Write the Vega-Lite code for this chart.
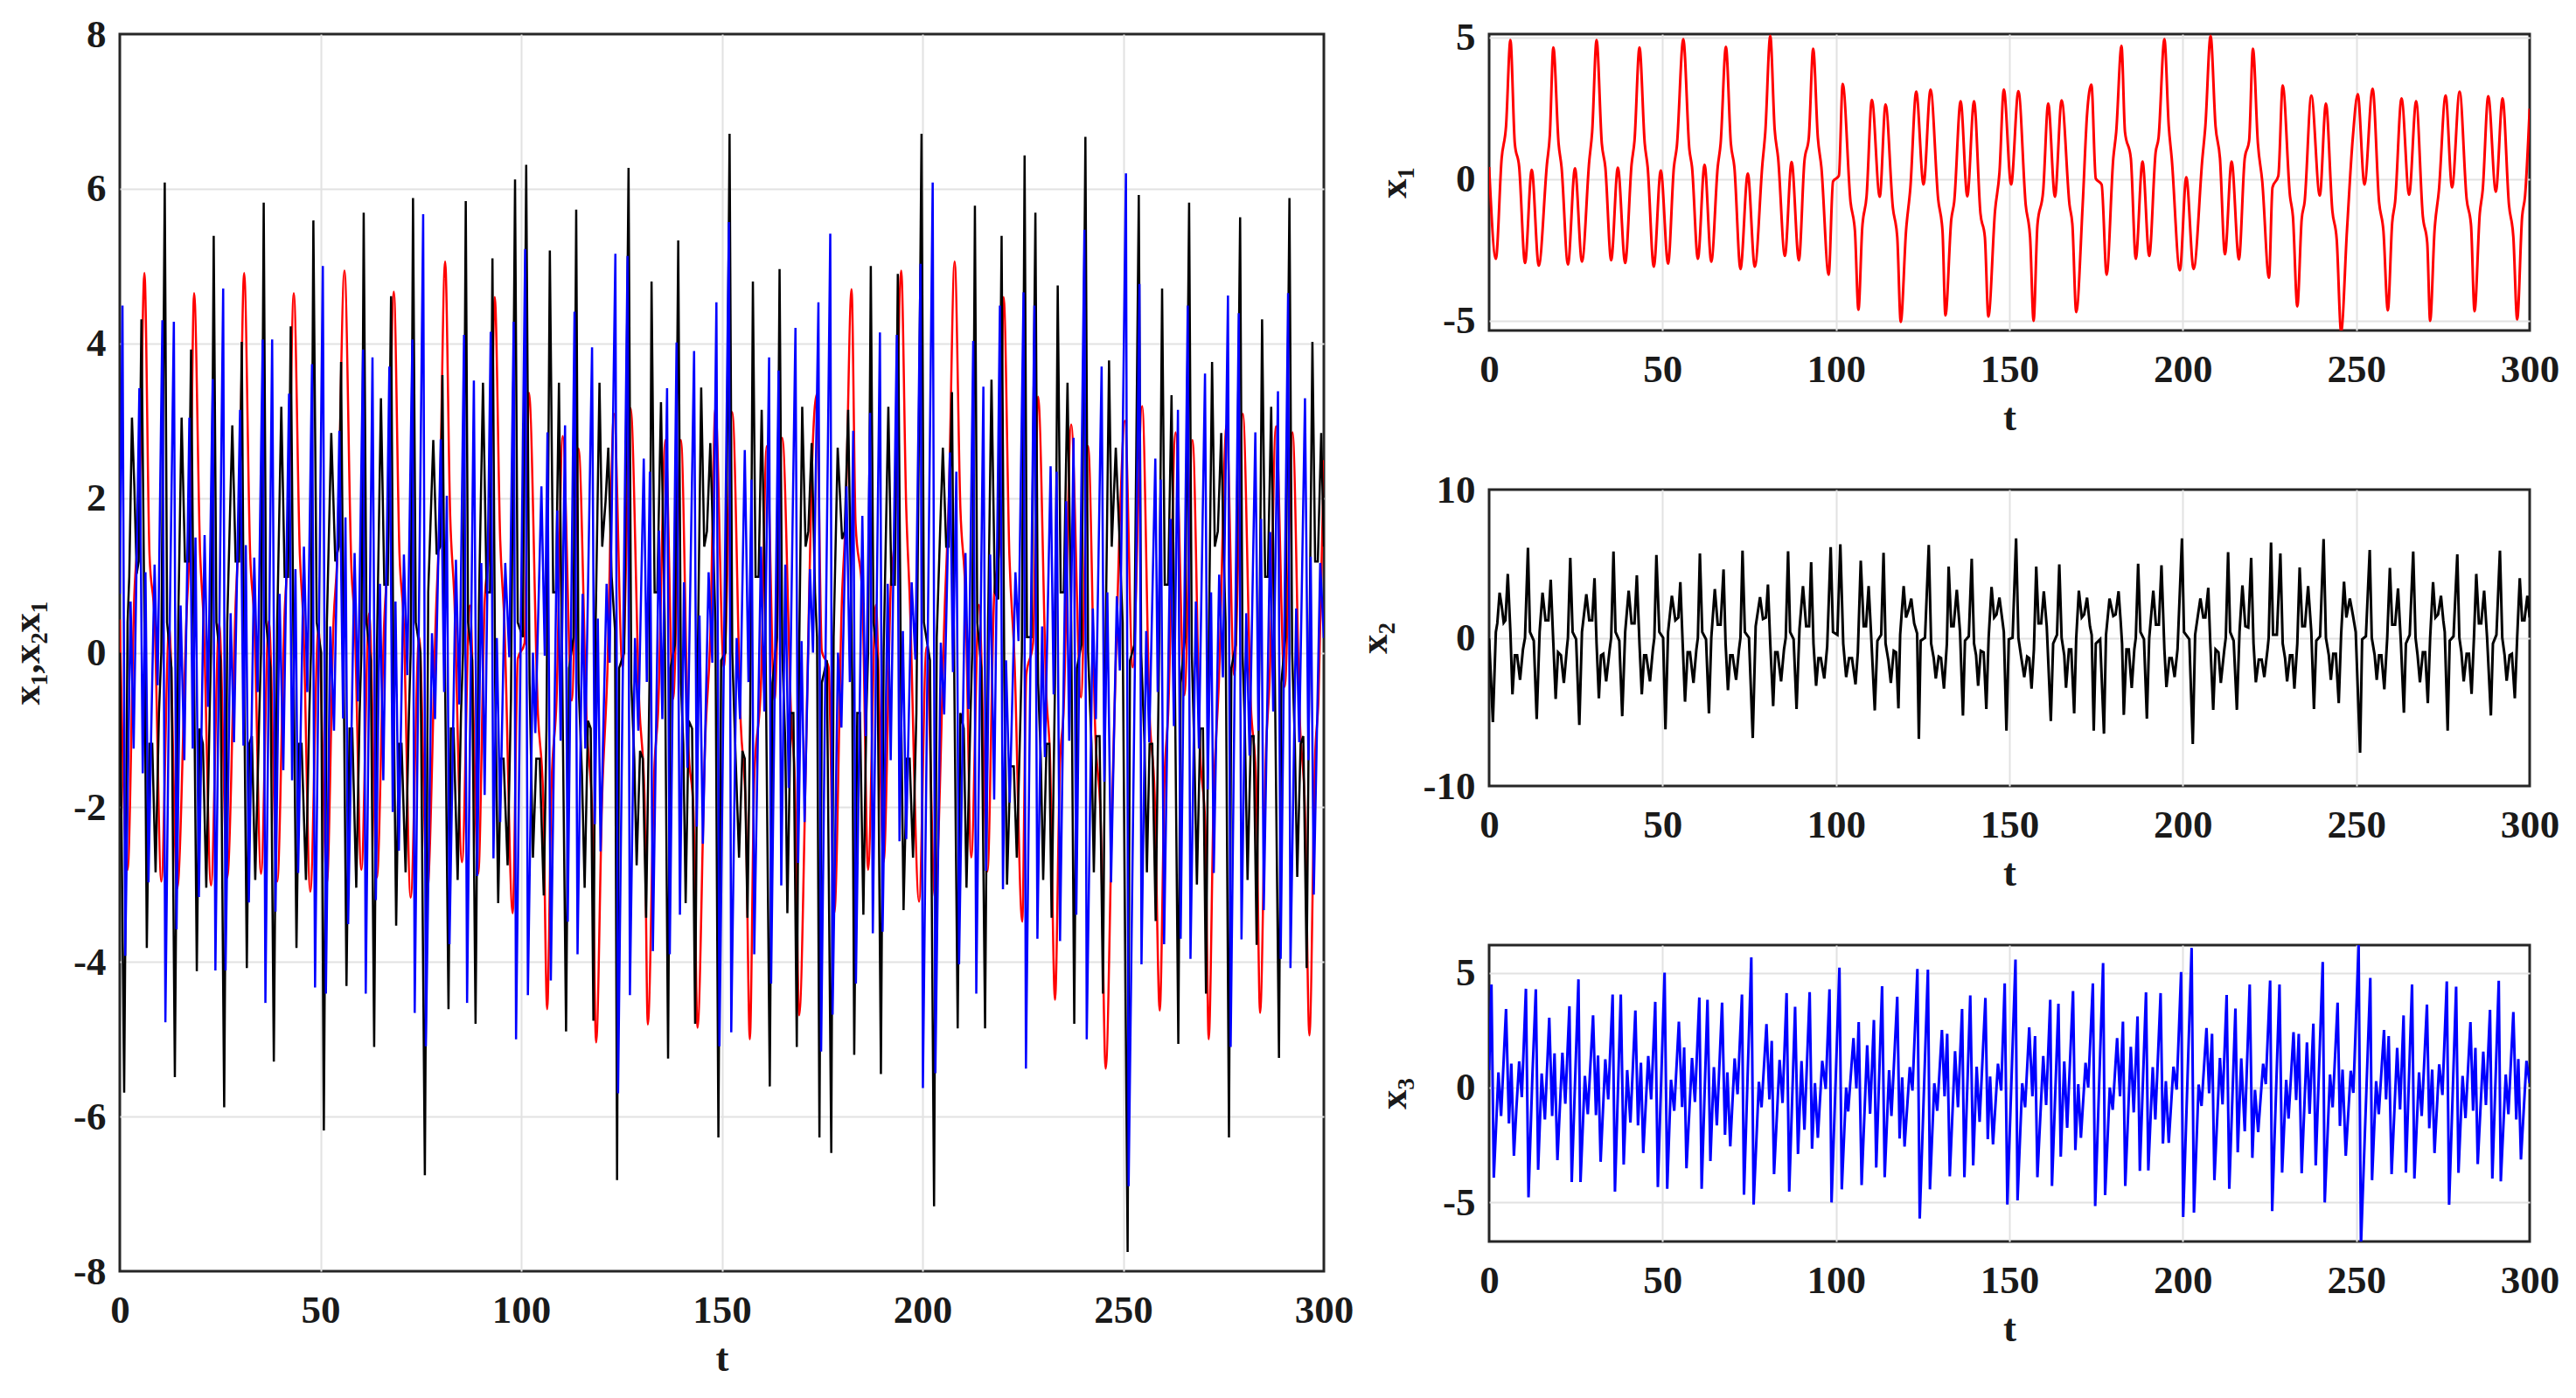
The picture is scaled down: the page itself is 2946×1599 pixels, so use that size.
{
"$schema":"https://vega.github.io/schema/vega-lite/v6.json",
"background":"white",
"padding":{"left":7,"top":15,"right":5,"bottom":5},
"datasets":{
"x1":[{"t":0,"v":0.43},{"t":1.94,"v":-2.81},{"t":3.62,"v":0.74},{"t":4.88,"v":1.87},{"t":6.14,"v":4.91},{"t":7.41,"v":1.26},{"t":8.67,"v":0.43},{"t":10.35,"v":-2.96},{"t":12.29,"v":0.33},{"t":14.31,"v":-3.05},{"t":16.67,"v":0.53},{"t":17.51,"v":1.56},{"t":18.52,"v":4.65},{"t":20.03,"v":1.26},{"t":20.88,"v":0.43},{"t":22.73,"v":-3.01},{"t":24.75,"v":0.38},{"t":26.77,"v":-2.91},{"t":28.87,"v":0.64},{"t":29.71,"v":1.67},{"t":30.98,"v":4.91},{"t":32.49,"v":1.26},{"t":33.5,"v":0.43},{"t":35.19,"v":-2.86},{"t":37.12,"v":0.41},{"t":39.23,"v":-2.96},{"t":41.08,"v":0.53},{"t":41.92,"v":1.36},{"t":43.35,"v":4.65},{"t":44.87,"v":1.26},{"t":45.71,"v":0.43},{"t":47.47,"v":-3.09},{"t":49.49,"v":0.31},{"t":51.6,"v":-2.98},{"t":53.28,"v":0.43},{"t":54.12,"v":1.15},{"t":55.98,"v":4.94},{"t":57.74,"v":1.05},{"t":58.5,"v":0.43},{"t":60.19,"v":-2.81},{"t":62.12,"v":0.51},{"t":64.06,"v":-2.91},{"t":65.91,"v":0.43},{"t":66.75,"v":1.26},{"t":68.27,"v":4.67},{"t":69.7,"v":1.26},{"t":70.71,"v":0.43},{"t":72.47,"v":-3.17},{"t":74.58,"v":0.2},{"t":76.6,"v":-3.09},{"t":78.79,"v":0.53},{"t":79.63,"v":1.67},{"t":81.06,"v":5.06},{"t":82.32,"v":1.77},{"t":83.33,"v":0.74},{"t":85.27,"v":-2.71},{"t":87.21,"v":0.61},{"t":89.31,"v":-2.86},{"t":90.91,"v":0.64},{"t":92.17,"v":1.46},{"t":93.43,"v":4.6},{"t":94.78,"v":1.46},{"t":95.79,"v":0.43},{"t":97.9,"v":-3.37},{"t":99.16,"v":-0.08},{"t":100.84,"v":0.12},{"t":101.94,"v":3.36},{"t":104.2,"v":-0.8},{"t":105.47,"v":-1.83},{"t":106.48,"v":-4.61},{"t":107.57,"v":-1.73},{"t":108.83,"v":-0.6},{"t":110.35,"v":2.8},{"t":112.62,"v":-0.62},{"t":114.3,"v":2.64},{"t":116.41,"v":-1.01},{"t":117.67,"v":-2.04},{"t":118.68,"v":-5.04},{"t":120.2,"v":-1.83},{"t":121.46,"v":-0.29},{"t":123.14,"v":3.09},{"t":125.25,"v":-0.19},{"t":127.27,"v":3.16},{"t":129.46,"v":-0.7},{"t":130.72,"v":-1.83},{"t":131.56,"v":-4.81},{"t":133.25,"v":-1.42},{"t":134.09,"v":-0.8},{"t":135.94,"v":2.75},{"t":137.87,"v":-0.6},{"t":139.81,"v":2.75},{"t":141.66,"v":-1.21},{"t":142.93,"v":-2.04},{"t":143.94,"v":-4.85},{"t":145.87,"v":-1.11},{"t":147.14,"v":0.23},{"t":148.4,"v":3.16},{"t":150.5,"v":-0.19},{"t":152.6,"v":3.11},{"t":154.71,"v":-0.91},{"t":155.97,"v":-2.04},{"t":156.98,"v":-5.0},{"t":158.08,"v":-1.63},{"t":159.76,"v":-0.39},{"t":161.19,"v":2.67},{"t":163.13,"v":-0.62},{"t":165.06,"v":2.78},{"t":167.34,"v":-0.91},{"t":168.18,"v":-1.63},{"t":169.27,"v":-4.69},{"t":171.13,"v":-0.91},{"t":172.39,"v":2.28},{"t":173.65,"v":3.34},{"t":174.91,"v":0.02},{"t":176.6,"v":-0.19},{"t":178.03,"v":-3.37},{"t":179.96,"v":0.74},{"t":180.8,"v":1.67},{"t":182.32,"v":4.7},{"t":183.33,"v":1.67},{"t":185.01,"v":0.74},{"t":186.44,"v":-2.81},{"t":188.38,"v":0.62},{"t":190.32,"v":-2.71},{"t":192.17,"v":0.95},{"t":193.01,"v":1.46},{"t":194.69,"v":4.94},{"t":195.95,"v":1.87},{"t":196.8,"v":0.74},{"t":199.15,"v":-3.22},{"t":201.0,"v":0.07},{"t":203.11,"v":-3.17},{"t":205.65,"v":0.74},{"t":206.5,"v":1.87},{"t":208.01,"v":5.06},{"t":209.44,"v":1.87},{"t":210.71,"v":0.74},{"t":212.14,"v":-2.65},{"t":214.07,"v":0.62},{"t":216.18,"v":-2.83},{"t":217.86,"v":0.74},{"t":219.12,"v":1.36},{"t":220.22,"v":4.6},{"t":221.65,"v":1.26},{"t":222.91,"v":-0.08},{"t":224.85,"v":-3.48},{"t":225.86,"v":-0.29},{"t":227.54,"v":0.12},{"t":228.8,"v":3.31},{"t":230.91,"v":-0.6},{"t":231.75,"v":-1.32},{"t":233.01,"v":-4.49},{"t":234.27,"v":-1.42},{"t":235.12,"v":-0.8},{"t":237.05,"v":2.95},{"t":239.49,"v":-0.58},{"t":241.26,"v":2.67},{"t":243.11,"v":-1.11},{"t":244.38,"v":-2.14},{"t":245.64,"v":-5.38},{"t":247.32,"v":-1.83},{"t":249.01,"v":1.46},{"t":250.44,"v":3.0},{"t":252.37,"v":-0.19},{"t":254.73,"v":3.19},{"t":256.58,"v":-0.8},{"t":257.84,"v":-1.83},{"t":259.11,"v":-4.63},{"t":260.37,"v":-1.53},{"t":261.21,"v":-0.8},{"t":263.06,"v":2.85},{"t":265.25,"v":-0.55},{"t":267.27,"v":2.75},{"t":269.21,"v":-1.32},{"t":270.47,"v":-2.24},{"t":271.31,"v":-5.0},{"t":272.57,"v":-1.83},{"t":273.84,"v":-0.39},{"t":275.77,"v":2.95},{"t":277.63,"v":-0.29},{"t":279.81,"v":3.09},{"t":281.83,"v":-0.7},{"t":283.1,"v":-1.63},{"t":284.11,"v":-4.66},{"t":285.62,"v":-1.21},{"t":286.46,"v":-0.39},{"t":288.06,"v":2.93},{"t":290.25,"v":-0.44},{"t":292.19,"v":2.85},{"t":294.04,"v":-0.91},{"t":295.3,"v":-2.04},{"t":296.4,"v":-4.95},{"t":297.83,"v":-1.32},{"t":298.67,"v":-0.6},{"t":300,"v":2.49}],
"x2":[{"t":0,"v":0},{"t":1.09,"v":-5.69},{"t":1.94,"v":0.39},{"t":2.36,"v":0.98},{"t":3.03,"v":3.04},{"t":3.62,"v":2.16},{"t":4.21,"v":1.02},{"t":4.71,"v":1.18},{"t":5.39,"v":4.31},{"t":6.14,"v":0.39},{"t":6.73,"v":-3.82},{"t":7.41,"v":-1.18},{"t":8.08,"v":-1.18},{"t":8.92,"v":-2.84},{"t":9.76,"v":-0.78},{"t":10.35,"v":0},{"t":11.2,"v":6.08},{"t":11.78,"v":0.39},{"t":12.88,"v":-0.2},{"t":13.72,"v":-5.49},{"t":14.56,"v":0.39},{"t":15.4,"v":3.04},{"t":16.25,"v":1.18},{"t":17.09,"v":1.18},{"t":17.76,"v":3.92},{"t":18.52,"v":-0.39},{"t":19.19,"v":-4.12},{"t":19.87,"v":-0.98},{"t":20.71,"v":-1.18},{"t":21.55,"v":-3.04},{"t":22.39,"v":-0.78},{"t":22.73,"v":0},{"t":23.4,"v":5.39},{"t":24.07,"v":0.39},{"t":25.08,"v":-0.1},{"t":26.01,"v":-5.88},{"t":26.77,"v":0.39},{"t":28.03,"v":2.94},{"t":28.87,"v":1.18},{"t":29.71,"v":1.18},{"t":30.39,"v":4.02},{"t":30.98,"v":-0.39},{"t":31.65,"v":-4.08},{"t":32.24,"v":-1.18},{"t":32.91,"v":-1.08},{"t":33.75,"v":-2.94},{"t":34.76,"v":-0.78},{"t":35.19,"v":0},{"t":35.86,"v":5.82},{"t":36.45,"v":0.39},{"t":37.54,"v":-0.2},{"t":38.38,"v":-5.29},{"t":39.23,"v":0.39},{"t":40.24,"v":3.18},{"t":41.08,"v":0.98},{"t":41.92,"v":0.98},{"t":42.59,"v":4.22},{"t":43.35,"v":-0.39},{"t":44.02,"v":-3.82},{"t":44.7,"v":-1.18},{"t":45.29,"v":-1.18},{"t":46.38,"v":-2.94},{"t":47.22,"v":-0.78},{"t":47.64,"v":0},{"t":48.23,"v":5.59},{"t":49.07,"v":0.39},{"t":50.17,"v":0},{"t":50.84,"v":-6.18},{"t":51.6,"v":0.39},{"t":52.69,"v":2.84},{"t":53.7,"v":1.18},{"t":54.55,"v":1.37},{"t":55.13,"v":3.76},{"t":55.81,"v":-0.39},{"t":56.48,"v":-4.31},{"t":57.24,"v":-0.98},{"t":57.91,"v":-0.98},{"t":58.92,"v":-3.04},{"t":59.76,"v":-0.78},{"t":60.19,"v":0},{"t":60.77,"v":5.69},{"t":61.45,"v":0.39},{"t":62.54,"v":-0.1},{"t":63.38,"v":-5.1},{"t":64.06,"v":0},{"t":65.07,"v":3.29},{"t":65.91,"v":0.88},{"t":66.75,"v":0.88},{"t":67.59,"v":4.61},{"t":68.18,"v":-0.39},{"t":68.86,"v":-3.53},{"t":69.53,"v":-1.18},{"t":70.2,"v":-1.18},{"t":71.21,"v":-2.84},{"t":72.05,"v":-0.78},{"t":72.47,"v":0},{"t":73.06,"v":5.88},{"t":73.74,"v":0.39},{"t":74.92,"v":0},{"t":76.01,"v":-6.76},{"t":76.85,"v":0.78},{"t":78.11,"v":2.75},{"t":78.96,"v":1.27},{"t":79.8,"v":1.37},{"t":80.39,"v":3.59},{"t":81.06,"v":-0.39},{"t":81.9,"v":-4.61},{"t":82.49,"v":-0.98},{"t":83.16,"v":-0.98},{"t":84.18,"v":-2.94},{"t":85.02,"v":-0.78},{"t":85.52,"v":0},{"t":86.2,"v":5.84},{"t":86.78,"v":0.39},{"t":87.79,"v":-0.1},{"t":88.64,"v":-4.8},{"t":89.48,"v":0.59},{"t":90.49,"v":3.49},{"t":91.41,"v":0.78},{"t":92.26,"v":0.78},{"t":92.85,"v":5.1},{"t":93.52,"v":-0.39},{"t":94.28,"v":-3.24},{"t":94.95,"v":-1.37},{"t":95.62,"v":-1.37},{"t":96.63,"v":-2.75},{"t":97.47,"v":-0.59},{"t":98.48,"v":6.12},{"t":99.15,"v":0.39},{"t":100.42,"v":0.2},{"t":101.26,"v":6.31},{"t":102.1,"v":-0.39},{"t":102.94,"v":-2.65},{"t":103.78,"v":-1.37},{"t":104.62,"v":-1.37},{"t":105.64,"v":-3.14},{"t":106.31,"v":-0.98},{"t":107.15,"v":5.2},{"t":107.99,"v":0.78},{"t":108.67,"v":0.78},{"t":109.42,"v":3.49},{"t":110.1,"v":0.39},{"t":111.19,"v":-4.9},{"t":111.95,"v":-0.2},{"t":113.04,"v":0.2},{"t":113.72,"v":5.73},{"t":114.3,"v":-0.39},{"t":115.15,"v":-1.57},{"t":115.82,"v":-3.04},{"t":116.66,"v":-0.88},{"t":117.34,"v":-0.98},{"t":118.01,"v":-4.76},{"t":118.51,"v":0.2},{"t":119.52,"v":3.49},{"t":120.2,"v":1.37},{"t":121.04,"v":1.96},{"t":121.71,"v":2.65},{"t":122.55,"v":0.98},{"t":123.4,"v":0.29},{"t":123.9,"v":-6.82},{"t":124.41,"v":-0.2},{"t":125.67,"v":0},{"t":126.76,"v":6.27},{"t":127.44,"v":-0.39},{"t":128.19,"v":-1.37},{"t":128.78,"v":-2.75},{"t":129.63,"v":-1.27},{"t":130.3,"v":-1.37},{"t":131.14,"v":-3.43},{"t":131.98,"v":-0.39},{"t":132.49,"v":4.8},{"t":133.25,"v":0.78},{"t":133.92,"v":0.78},{"t":134.84,"v":3.24},{"t":135.77,"v":0.39},{"t":136.61,"v":-5.25},{"t":137.2,"v":-0.2},{"t":138.3,"v":0.1},{"t":139.14,"v":5.33},{"t":139.81,"v":-0.39},{"t":140.4,"v":-1.18},{"t":140.99,"v":-3.24},{"t":141.75,"v":-0.88},{"t":142.59,"v":-0.98},{"t":143.35,"v":-4.8},{"t":144.02,"v":0},{"t":144.86,"v":3.43},{"t":145.62,"v":1.37},{"t":146.29,"v":1.57},{"t":147.13,"v":2.71},{"t":147.98,"v":1.18},{"t":148.4,"v":0.39},{"t":149.15,"v":-6.27},{"t":149.83,"v":-0.1},{"t":150.92,"v":0},{"t":151.93,"v":6.71},{"t":152.6,"v":0},{"t":153.45,"v":-1.37},{"t":154.29,"v":-2.65},{"t":155.13,"v":-1.27},{"t":155.72,"v":-1.37},{"t":156.39,"v":-3.43},{"t":157.07,"v":-0.78},{"t":157.74,"v":4.8},{"t":158.41,"v":0.98},{"t":159.17,"v":0.98},{"t":159.93,"v":3.14},{"t":160.77,"v":0.78},{"t":161.95,"v":-5.61},{"t":162.62,"v":-0.39},{"t":163.72,"v":0.2},{"t":164.39,"v":4.96},{"t":165.06,"v":0},{"t":165.82,"v":-1.18},{"t":166.33,"v":-3.37},{"t":167.17,"v":-0.78},{"t":167.84,"v":-0.78},{"t":168.68,"v":-5.1},{"t":169.27,"v":0},{"t":170.03,"v":3.18},{"t":170.87,"v":1.37},{"t":171.55,"v":1.57},{"t":172.39,"v":2.71},{"t":173.23,"v":0.78},{"t":173.73,"v":0.2},{"t":174.32,"v":-6.27},{"t":174.91,"v":-0.39},{"t":176.17,"v":-0.1},{"t":177.27,"v":-6.47},{"t":177.86,"v":0.2},{"t":178.87,"v":2.65},{"t":179.96,"v":1.47},{"t":180.63,"v":1.57},{"t":181.48,"v":3.14},{"t":182.07,"v":1.18},{"t":182.49,"v":-0.39},{"t":182.99,"v":-5.2},{"t":183.75,"v":-0.78},{"t":184.42,"v":-0.78},{"t":185.27,"v":-3.39},{"t":186.02,"v":-0.78},{"t":186.45,"v":0},{"t":187.12,"v":5.0},{"t":187.79,"v":0.39},{"t":188.8,"v":-0.1},{"t":189.64,"v":-5.45},{"t":190.32,"v":0},{"t":191.49,"v":3.18},{"t":192.25,"v":0.88},{"t":193.1,"v":0.88},{"t":193.85,"v":4.9},{"t":194.69,"v":-0.78},{"t":195.28,"v":-3.33},{"t":196.13,"v":-1.37},{"t":196.8,"v":-1.37},{"t":197.64,"v":-2.65},{"t":198.48,"v":-0.78},{"t":199.76,"v":6.71},{"t":200.35,"v":0.39},{"t":201.87,"v":-0.1},{"t":202.88,"v":-7.16},{"t":203.55,"v":0.2},{"t":204.39,"v":1.57},{"t":205.07,"v":2.65},{"t":205.91,"v":1.37},{"t":206.5,"v":1.37},{"t":207.34,"v":3.37},{"t":207.93,"v":-0.39},{"t":208.77,"v":-4.86},{"t":209.44,"v":-0.78},{"t":210.28,"v":-0.98},{"t":210.96,"v":-3.04},{"t":211.97,"v":-0.78},{"t":212.39,"v":0},{"t":213.06,"v":5.78},{"t":213.65,"v":0.39},{"t":214.66,"v":-0.2},{"t":215.59,"v":-4.86},{"t":216.35,"v":0.39},{"t":217.19,"v":3.53},{"t":218.03,"v":0.78},{"t":218.87,"v":0.69},{"t":219.71,"v":5.39},{"t":220.39,"v":-0.39},{"t":221.06,"v":-3.0},{"t":221.9,"v":-1.47},{"t":222.74,"v":-1.47},{"t":223.5,"v":-2.65},{"t":224.43,"v":-0.78},{"t":224.76,"v":0},{"t":225.44,"v":6.43},{"t":226.03,"v":0.2},{"t":227.12,"v":0.2},{"t":228.13,"v":5.69},{"t":228.8,"v":-0.39},{"t":229.48,"v":-1.37},{"t":230.07,"v":-2.94},{"t":230.91,"v":-1.18},{"t":231.58,"v":-1.18},{"t":232.17,"v":-3.43},{"t":233.01,"v":-0.39},{"t":233.69,"v":4.75},{"t":234.44,"v":0.78},{"t":235.2,"v":0.78},{"t":236.13,"v":3.49},{"t":237.05,"v":0.39},{"t":237.81,"v":-4.8},{"t":238.48,"v":-0.2},{"t":239.58,"v":0.1},{"t":240.59,"v":6.67},{"t":241.26,"v":0},{"t":242.1,"v":-1.18},{"t":242.69,"v":-2.84},{"t":243.37,"v":-1.08},{"t":244.12,"v":-1.08},{"t":244.96,"v":-4.41},{"t":245.64,"v":0.2},{"t":246.48,"v":3.78},{"t":247.15,"v":1.37},{"t":248.16,"v":2.65},{"t":249.01,"v":1.57},{"t":249.85,"v":0.39},{"t":251.11,"v":-7.75},{"t":251.7,"v":-0.1},{"t":252.79,"v":0.1},{"t":253.89,"v":5.92},{"t":254.48,"v":0},{"t":255.32,"v":-1.18},{"t":255.91,"v":-2.84},{"t":256.58,"v":-1.18},{"t":257.25,"v":-1.18},{"t":258.1,"v":-3.47},{"t":258.94,"v":0},{"t":259.7,"v":4.71},{"t":260.37,"v":0.88},{"t":261.21,"v":0.88},{"t":262.05,"v":3.33},{"t":262.89,"v":-0.39},{"t":263.74,"v":-5.06},{"t":264.32,"v":-0.39},{"t":265.42,"v":0.2},{"t":266.43,"v":5.82},{"t":267.1,"v":0},{"t":267.69,"v":-1.18},{"t":268.37,"v":-3.0},{"t":269.21,"v":-0.98},{"t":269.88,"v":-0.98},{"t":270.64,"v":-4.41},{"t":271.31,"v":0},{"t":272.15,"v":3.76},{"t":272.83,"v":1.37},{"t":273.59,"v":1.57},{"t":274.43,"v":2.84},{"t":275.1,"v":1.18},{"t":275.52,"v":0.39},{"t":276.36,"v":-6.27},{"t":276.95,"v":-0.2},{"t":278.05,"v":0.1},{"t":279.14,"v":5.63},{"t":279.73,"v":0},{"t":280.32,"v":-0.98},{"t":280.99,"v":-2.94},{"t":281.83,"v":-1.08},{"t":282.5,"v":-1.08},{"t":283.26,"v":-3.78},{"t":283.94,"v":0},{"t":284.61,"v":4.31},{"t":285.37,"v":0.98},{"t":286.04,"v":0.98},{"t":286.88,"v":3.18},{"t":287.73,"v":0},{"t":288.82,"v":-5.24},{"t":289.41,"v":-0.39},{"t":290.42,"v":0.2},{"t":291.43,"v":5.88},{"t":292.1,"v":0},{"t":292.78,"v":-1.18},{"t":293.37,"v":-2.9},{"t":294.21,"v":-1.18},{"t":294.88,"v":-1.08},{"t":295.72,"v":-4.08},{"t":296.4,"v":0},{"t":297.15,"v":4.02},{"t":297.83,"v":1.18},{"t":298.5,"v":1.18},{"t":299.34,"v":2.84},{"t":300,"v":1.37}],
"x3":[{"t":0,"v":0.76},{"t":0.67,"v":4.49},{"t":1.35,"v":-3.92},{"t":2.1,"v":-1.39},{"t":2.69,"v":0.66},{"t":3.45,"v":-1.24},{"t":4.88,"v":3.42},{"t":5.72,"v":-1.56},{"t":6.4,"v":1.04},{"t":7.15,"v":-2.97},{"t":7.83,"v":-1.01},{"t":8.67,"v":1.14},{"t":9.43,"v":-0.42},{"t":10.61,"v":4.3},{"t":11.36,"v":-4.78},{"t":12.46,"v":0.44},{"t":13.47,"v":4.28},{"t":14.14,"v":-3.58},{"t":15.15,"v":0.61},{"t":16.08,"v":-1.39},{"t":17.34,"v":3.04},{"t":18.18,"v":-1.24},{"t":18.86,"v":1.49},{"t":19.7,"v":-3.16},{"t":21.13,"v":1.52},{"t":21.97,"v":-0.7},{"t":23.15,"v":3.54},{"t":23.82,"v":-4.11},{"t":25.76,"v":4.71},{"t":26.35,"v":-4.11},{"t":27.61,"v":0.51},{"t":28.45,"v":-1.16},{"t":29.97,"v":3.14},{"t":30.81,"v":-1.2},{"t":31.4,"v":1.39},{"t":32.15,"v":-3.23},{"t":33.5,"v":1.23},{"t":34.34,"v":-0.51},{"t":35.61,"v":4.05},{"t":36.28,"v":-4.53},{"t":37.96,"v":4.05},{"t":38.8,"v":-3.35},{"t":39.81,"v":0.76},{"t":40.74,"v":-1.52},{"t":42.17,"v":3.35},{"t":42.93,"v":-1.65},{"t":43.77,"v":1.08},{"t":44.44,"v":-2.85},{"t":45.88,"v":1.37},{"t":46.72,"v":-0.51},{"t":47.9,"v":3.73},{"t":48.65,"v":-4.33},{"t":50.59,"v":5.0},{"t":51.35,"v":-4.41},{"t":52.44,"v":0.34},{"t":53.37,"v":-1.01},{"t":54.71,"v":2.87},{"t":55.64,"v":-0.85},{"t":56.23,"v":1.75},{"t":56.9,"v":-3.51},{"t":58.5,"v":1.29},{"t":59.34,"v":-0.63},{"t":60.61,"v":3.92},{"t":61.28,"v":-4.41},{"t":62.96,"v":3.82},{"t":63.8,"v":-3.2},{"t":64.81,"v":0.89},{"t":65.66,"v":-1.65},{"t":67.17,"v":3.7},{"t":68.01,"v":-2.06},{"t":68.69,"v":0.66},{"t":69.53,"v":-2.56},{"t":70.79,"v":1.27},{"t":71.63,"v":-0.29},{"t":72.9,"v":4.05},{"t":73.48,"v":-4.66},{"t":75.59,"v":5.67},{"t":76.26,"v":-5.09},{"t":77.78,"v":0.25},{"t":78.54,"v":-0.86},{"t":79.97,"v":2.76},{"t":80.81,"v":-0.51},{"t":81.48,"v":2.03},{"t":82.15,"v":-3.77},{"t":83.75,"v":1.2},{"t":84.6,"v":-0.67},{"t":85.77,"v":4.11},{"t":86.53,"v":-4.53},{"t":88.22,"v":3.52},{"t":89.06,"v":-2.89},{"t":90.07,"v":1.16},{"t":90.91,"v":-1.84},{"t":92.42,"v":4.15},{"t":93.1,"v":-2.66},{"t":93.94,"v":0.19},{"t":94.78,"v":-2.19},{"t":96.04,"v":1.16},{"t":97.05,"v":-0.06},{"t":98.14,"v":4.28},{"t":98.73,"v":-5.0},{"t":101.0,"v":5.22},{"t":101.68,"v":-4.43},{"t":102.94,"v":0},{"t":103.53,"v":-1.04},{"t":105.05,"v":2.15},{"t":105.89,"v":-0.04},{"t":106.56,"v":2.85},{"t":107.4,"v":-4.24},{"t":109.0,"v":1.84},{"t":109.84,"v":-1.14},{"t":110.94,"v":2.94},{"t":111.61,"v":-3.48},{"t":113.3,"v":4.41},{"t":114.05,"v":-3.9},{"t":115.32,"v":0.76},{"t":115.99,"v":-1.24},{"t":117.67,"v":3.95},{"t":118.35,"v":-2.22},{"t":119.1,"v":0.44},{"t":119.78,"v":-2.57},{"t":121.29,"v":0.89},{"t":122.05,"v":-0.13},{"t":123.48,"v":5.16},{"t":124.15,"v":-5.7},{"t":126.51,"v":5.13},{"t":127.1,"v":-4.43},{"t":128.36,"v":0.19},{"t":129.2,"v":-1.01},{"t":130.55,"v":2.51},{"t":131.31,"v":-0.38},{"t":132.07,"v":2.34},{"t":132.82,"v":-3.86},{"t":134.34,"v":1.58},{"t":135.18,"v":-0.86},{"t":136.36,"v":3.42},{"t":137.03,"v":-3.9},{"t":138.72,"v":4.01},{"t":139.56,"v":-3.39},{"t":140.57,"v":0.91},{"t":141.41,"v":-1.49},{"t":143.09,"v":3.9},{"t":143.77,"v":-2.25},{"t":144.44,"v":0.48},{"t":145.28,"v":-2.47},{"t":146.71,"v":1.04},{"t":147.64,"v":-0.13},{"t":148.65,"v":4.53},{"t":149.41,"v":-5.09},{"t":151.76,"v":5.57},{"t":152.35,"v":-4.91},{"t":153.7,"v":0.19},{"t":154.54,"v":-0.86},{"t":155.72,"v":2.62},{"t":156.64,"v":-0.38},{"t":157.4,"v":2.24},{"t":158.08,"v":-3.9},{"t":159.76,"v":1.37},{"t":160.6,"v":-0.76},{"t":161.78,"v":3.82},{"t":162.28,"v":-4.28},{"t":164.14,"v":3.65},{"t":164.81,"v":-3.01},{"t":165.82,"v":1.14},{"t":166.66,"v":-1.75},{"t":168.35,"v":4.2},{"t":169.02,"v":-2.72},{"t":169.86,"v":0.15},{"t":170.62,"v":-2.19},{"t":171.96,"v":1.08},{"t":172.72,"v":0},{"t":174.07,"v":4.53},{"t":174.74,"v":-5.16},{"t":177.02,"v":5.42},{"t":177.6,"v":-4.68},{"t":178.95,"v":0},{"t":179.79,"v":-0.97},{"t":181.06,"v":2.15},{"t":181.9,"v":-0.38},{"t":182.74,"v":2.87},{"t":183.41,"v":-4.28},{"t":185.01,"v":1.77},{"t":185.85,"v":-1.08},{"t":186.95,"v":3.1},{"t":187.62,"v":-3.63},{"t":189.39,"v":4.14},{"t":190.06,"v":-3.61},{"t":191.33,"v":0.89},{"t":192.08,"v":-1.39},{"t":193.6,"v":4.11},{"t":194.27,"v":-2.44},{"t":195.11,"v":0.28},{"t":195.95,"v":-2.41},{"t":197.3,"v":0.91},{"t":198.23,"v":-0.09},{"t":199.51,"v":5.03},{"t":200.1,"v":-5.63},{"t":202.54,"v":6.08},{"t":203.21,"v":-5.44},{"t":204.56,"v":0.13},{"t":205.4,"v":-0.8},{"t":206.83,"v":2.59},{"t":207.59,"v":-0.25},{"t":208.43,"v":2.34},{"t":209.11,"v":-4.03},{"t":210.71,"v":1.29},{"t":211.46,"v":-0.73},{"t":212.64,"v":4.03},{"t":213.4,"v":-4.41},{"t":215.17,"v":3.44},{"t":215.84,"v":-2.82},{"t":216.85,"v":1.27},{"t":217.86,"v":-1.9},{"t":219.29,"v":4.49},{"t":220.05,"v":-3.06},{"t":220.81,"v":-0.1},{"t":221.73,"v":-1.94},{"t":223.16,"v":1.04},{"t":223.92,"v":0.15},{"t":225.18,"v":4.66},{"t":225.77,"v":-5.38},{"t":227.88,"v":4.49},{"t":228.63,"v":-3.7},{"t":229.81,"v":0.34},{"t":230.49,"v":-1.35},{"t":231.92,"v":2.41},{"t":232.68,"v":-0.54},{"t":233.43,"v":2.34},{"t":234.27,"v":-3.73},{"t":235.79,"v":1.96},{"t":236.55,"v":-1.14},{"t":237.64,"v":2.78},{"t":238.32,"v":-3.39},{"t":240.34,"v":5.47},{"t":240.92,"v":-5.0},{"t":242.44,"v":0.57},{"t":243.2,"v":-0.86},{"t":244.63,"v":3.7},{"t":245.3,"v":-1.67},{"t":246.06,"v":0.78},{"t":246.98,"v":-2.97},{"t":248.42,"v":0.73},{"t":249.17,"v":-0.23},{"t":250.69,"v":6.2},{"t":251.36,"v":-6.9},{"t":254.06,"v":4.77},{"t":254.56,"v":-4.03},{"t":255.74,"v":0.28},{"t":256.5,"v":-1.16},{"t":258.01,"v":2.51},{"t":258.6,"v":-0.51},{"t":259.36,"v":2.24},{"t":260.2,"v":-3.77},{"t":261.8,"v":1.73},{"t":262.64,"v":-0.95},{"t":263.65,"v":3.14},{"t":264.32,"v":-3.7},{"t":266.09,"v":4.49},{"t":266.77,"v":-3.96},{"t":268.11,"v":0.66},{"t":268.87,"v":-1.24},{"t":270.39,"v":3.61},{"t":271.06,"v":-1.77},{"t":271.9,"v":0.78},{"t":272.57,"v":-2.85},{"t":273.92,"v":1.01},{"t":274.85,"v":-0.32},{"t":276.11,"v":4.62},{"t":276.78,"v":-5.1},{"t":278.8,"v":4.39},{"t":279.48,"v":-3.71},{"t":280.66,"v":0.51},{"t":281.5,"v":-1.33},{"t":282.93,"v":2.85},{"t":283.69,"v":-1.01},{"t":284.36,"v":1.73},{"t":285.03,"v":-3.33},{"t":286.63,"v":1.56},{"t":287.39,"v":-0.76},{"t":288.57,"v":3.38},{"t":289.24,"v":-3.96},{"t":291.09,"v":4.65},{"t":291.68,"v":-4.08},{"t":293.11,"v":0.57},{"t":293.87,"v":-1.16},{"t":295.3,"v":3.29},{"t":296.14,"v":-1.39},{"t":296.73,"v":1.24},{"t":297.49,"v":-3.13},{"t":299.09,"v":1.16},{"t":300,"v":0.19}]
},
"config":{
"font":"Liberation Serif",
"view":{"stroke":"#262626","strokeWidth":3},
"axis":{"labelFont":"Liberation Serif","labelFontSize":45,"labelFontWeight":"bold","labelColor":"#1a1a1a","titleFont":"Liberation Serif","titleFontSize":45,"titleFontWeight":"bold","titleColor":"#1a1a1a","gridColor":"#e2e2e2","gridWidth":2,"domain":false,"ticks":false,"labelFlush":false,"labelOverlap":false,"labelExpr":"replace(datum.label, '−', '-')"},
"axisX":{"labelPadding":22,"titlePadding":10},
"axisY":{"labelPadding":16,"titlePadding":33}
},
"bounds":"flush",
"spacing":189,
"hconcat":[
{"width":1377,"height":1415,
"encoding":{
"x":{"field":"t","type":"quantitative","scale":{"domain":[0,300],"nice":false},"axis":{"values":[0,50,100,150,200,250,300],"title":"t","gridOpacity":{"condition":{"test":"datum.value <= 0 || datum.value >= 300","value":0},"value":1}}},
"y":{"field":"v","type":"quantitative","scale":{"domain":[-8,8],"nice":false},"axis":{"values":[-8,-6,-4,-2,0,2,4,6,8],"title":"x₁,x₂x₁","titlePadding":30,"gridOpacity":{"condition":{"test":"abs(datum.value) >= 8","value":0},"value":1}}}
},
"layer":[
{"data":{"name":"x1"},"mark":{"type":"line","color":"#ff0000","strokeWidth":2.5,"interpolate":"monotone","clip":true}},
{"data":{"name":"x2"},"mark":{"type":"line","color":"#000000","strokeWidth":2.5,"clip":true}},
{"data":{"name":"x3"},"mark":{"type":"line","color":"#0000ff","strokeWidth":2.5,"clip":true}}
]},
{"bounds":"flush","spacing":182,"vconcat":[
{"width":1190,"height":339,"data":{"name":"x1"},"mark":{"type":"line","color":"#ff0000","strokeWidth":3,"interpolate":"monotone","clip":true},
"encoding":{
"x":{"field":"t","type":"quantitative","scale":{"domain":[0,300],"nice":false},"axis":{"values":[0,50,100,150,200,250,300],"title":"t","gridOpacity":{"condition":{"test":"datum.value <= 0 || datum.value >= 300","value":0},"value":1}}},
"y":{"field":"v","type":"quantitative","scale":{"domain":[-5.34,5.12],"nice":false,"zero":false},"axis":{"values":[-5,0,5],"title":"x₁"}}}},
{"width":1190,"height":339,"data":{"name":"x2"},"mark":{"type":"line","color":"#000000","strokeWidth":3,"clip":true},
"encoding":{
"x":{"field":"t","type":"quantitative","scale":{"domain":[0,300],"nice":false},"axis":{"values":[0,50,100,150,200,250,300],"title":"t","gridOpacity":{"condition":{"test":"datum.value <= 0 || datum.value >= 300","value":0},"value":1}}},
"y":{"field":"v","type":"quantitative","scale":{"domain":[-10,10],"nice":false},"axis":{"values":[-10,0,10],"title":"x₂","gridOpacity":{"condition":{"test":"abs(datum.value) >= 10","value":0},"value":1}}}}},
{"width":1190,"height":339,"data":{"name":"x3"},"mark":{"type":"line","color":"#0000ff","strokeWidth":3,"clip":true},
"encoding":{
"x":{"field":"t","type":"quantitative","scale":{"domain":[0,300],"nice":false},"axis":{"values":[0,50,100,150,200,250,300],"title":"t","gridOpacity":{"condition":{"test":"datum.value <= 0 || datum.value >= 300","value":0},"value":1}}},
"y":{"field":"v","type":"quantitative","scale":{"domain":[-6.7,6.2],"nice":false,"zero":false},"axis":{"values":[-5,0,5],"title":"x₃"}}}}
]}
]
}
